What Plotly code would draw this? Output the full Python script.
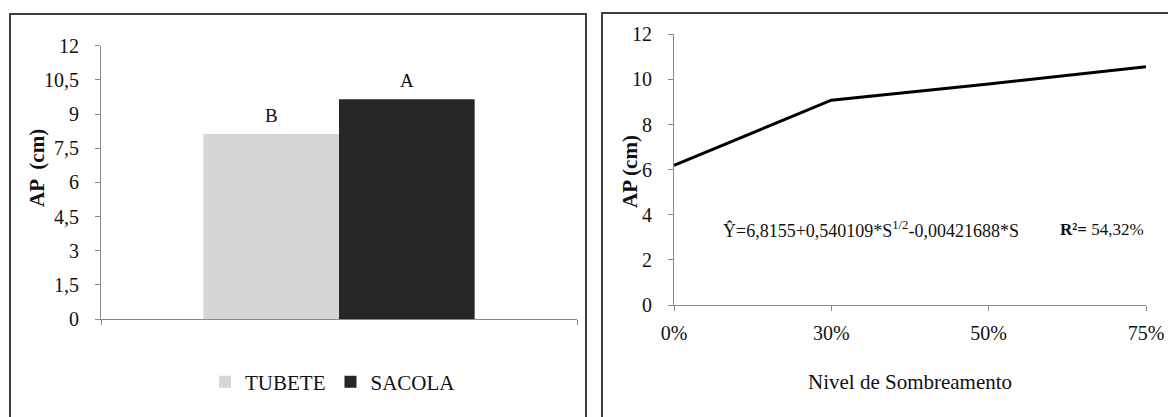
import plotly.graph_objects as go

# Left panel: height by container type
containers = ["TUBETE", "SACOLA"]
container_values = [8.12, 9.65]
container_letters = ["B", "A"]
container_colors = ["#d6d6d6", "#262626"]
left_ticks = [0, 1.5, 3, 4.5, 6, 7.5, 9, 10.5, 12]
left_ticktext = ["0", "1,5", "3", "4,5", "6", "7,5", "9", "10,5", "12"]

# Right panel: height by shading level
shade_levels = ["0%", "30%", "50%", "75%"]
shade_values = [6.19, 9.08, 9.80, 10.56]
right_ticks = [0, 2, 4, 6, 8, 10, 12]

W, H = 1168, 417
FONT = "Liberation Serif, Times New Roman, serif"
AXIS_GREY = "#8a8a8a"
BAR_GAP = 0.43


def px_x(p):
    return p / W


def px_y(p):
    return 1 - p / H


fig = go.Figure()

for name, val, col in zip(containers, container_values, container_colors):
    fig.add_trace(go.Bar(
        x=["AP"], y=[val], name=name, marker=dict(color=col, line=dict(width=0)),
        xaxis="x", yaxis="y", offsetgroup=name,
    ))

fig.add_trace(go.Scatter(
    x=shade_levels, y=shade_values, mode="lines",
    line=dict(color="black", width=3), showlegend=False,
    xaxis="x2", yaxis="y2",
))

# significance letters above each bar
bar_w = (1 - BAR_GAP) / len(containers)
annotations = []
for i, (val, letter) in enumerate(zip(container_values, container_letters)):
    xc = -0.5 + BAR_GAP / 2 + bar_w * (i + 0.5)
    annotations.append(dict(
        x=xc, y=val, xref="x", yref="y", text=letter, showarrow=False,
        xanchor="center", yanchor="bottom", yshift=6,
        font=dict(family=FONT, size=19, color="#111"),
    ))

# axis titles and regression text
annotations += [
    dict(x=px_x(37), y=px_y(168), xref="paper", yref="paper", text="<b>AP  (cm)</b>",
         xanchor="center", yanchor="middle", textangle=-90, showarrow=False,
         font=dict(family=FONT, size=21, color="#111")),
    dict(x=px_x(630), y=px_y(172), xref="paper", yref="paper", text="<b>AP (cm)</b>",
         xanchor="center", yanchor="middle", textangle=-90, showarrow=False,
         font=dict(family=FONT, size=21, color="#111")),
    dict(x=px_x(910), y=px_y(382), xref="paper", yref="paper", text="Nivel de Sombreamento",
         xanchor="center", yanchor="middle", showarrow=False,
         font=dict(family=FONT, size=21, color="#111")),
    dict(x=px_x(721), y=px_y(229), xref="paper", yref="paper", xanchor="left", yanchor="middle",
         text="Ŷ=6,8155+0,540109*S<sup>1/2</sup>-0,00421688*S",
         showarrow=False, font=dict(family=FONT, size=18, color="#111")),
    dict(x=px_x(1058), y=px_y(229), xref="paper", yref="paper", xanchor="left", yanchor="middle",
         text="<b>R²=</b> 54,32%",
         showarrow=False, font=dict(family=FONT, size=17, color="#111")),
]

# panel frames
shapes = [
    dict(type="rect", xref="paper", yref="paper", x0=px_x(10), x1=px_x(586),
         y0=-0.05, y1=px_y(14), line=dict(color="#404040", width=2)),
    dict(type="rect", xref="paper", yref="paper", x0=px_x(602), x1=1.05,
         y0=-0.05, y1=px_y(13), line=dict(color="#404040", width=2)),
]

axis_common = dict(
    showgrid=False, zeroline=False, showline=True, linecolor=AXIS_GREY, linewidth=1,
    ticks="outside", ticklen=5, tickcolor=AXIS_GREY, tickwidth=1, automargin=False,
    tickfont=dict(family=FONT, size=20, color="#111"),
)

fig.update_layout(
    template="none",
    width=W, height=H, autosize=False,
    margin=dict(l=0, r=0, t=0, b=0, pad=0),
    font=dict(family=FONT, color="#111"),
    paper_bgcolor="white", plot_bgcolor="white",
    barmode="group", bargap=BAR_GAP, bargroupgap=0,
    xaxis=dict(type="category", domain=[px_x(101), px_x(577)], anchor="y",
               showticklabels=False, tickson="boundaries", **axis_common),
    yaxis=dict(domain=[px_y(319), px_y(45.7)], anchor="x", range=[0, 12],
               tickvals=left_ticks, ticktext=left_ticktext, ticklabelstandoff=12,
               **axis_common),
    xaxis2=dict(type="category", domain=[px_x(674), px_x(1146)], anchor="y2", range=[0, 3],
                ticklabelstandoff=5, **axis_common),
    yaxis2=dict(domain=[px_y(305), px_y(34.3)], anchor="x2", range=[0, 12],
                tickvals=right_ticks, ticklabelstandoff=12, **axis_common),
    legend=dict(orientation="h", x=px_x(205), y=px_y(382), xanchor="left", yanchor="middle",
                font=dict(family=FONT, size=21, color="#111"), itemwidth=30,
                tracegroupgap=0, bgcolor="rgba(0,0,0,0)"),
    annotations=annotations,
    shapes=shapes,
    showlegend=True,
)

fig.write_html("out.html")
